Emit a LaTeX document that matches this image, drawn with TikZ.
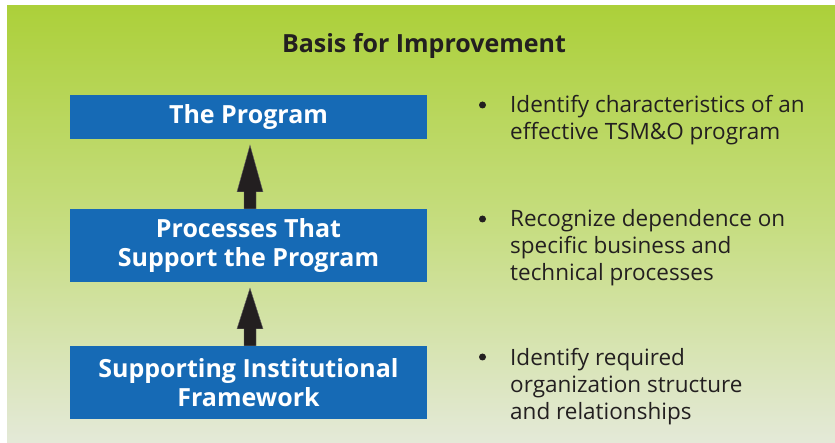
\documentclass[tikz,border=0pt]{standalone}
\usepackage{fontspec}
\setmainfont{Open Sans}
\usetikzlibrary{calc}
\definecolor{bgtop}{RGB}{172,208,58}
\definecolor{bgmid}{RGB}{198,221,128}
\definecolor{bgbot}{RGB}{228,233,216}
\definecolor{boxblue}{RGB}{22,106,181}
\definecolor{ink}{RGB}{35,31,32}
\tikzset{
  stagebox/.style={fill=boxblue, draw=none, minimum width=357pt, inner sep=0pt, text=white,
    align=center, font=\bfseries\fontsize{25}{28.5}\selectfont},
  bullettext/.style={anchor=base west, align=left, text=ink, inner sep=0pt,
    font=\fontsize{22.5}{27}\selectfont},
  bulletdot/.style={circle, fill=ink, draw=none, minimum size=7pt, inner sep=0pt},
  uparrow/.style={fill=ink, draw=ink!70, line width=0.4pt},
}
\begin{document}
\begin{tikzpicture}[x=1pt,y=-1pt]
\useasboundingbox (0,0) rectangle (835,443);
\shade[top color=bgtop, bottom color=bgbot, middle color=bgmid] (7,6) rectangle (835,443);

\node[text=ink, font=\bfseries\fontsize{25}{28}\selectfont, anchor=base] (title) at (424,53) {Basis for Improvement};

\node[stagebox, minimum height=44pt] (b1) at (248.5,117) {The Program};
\node[stagebox, minimum height=73pt] (b2) at (248.5,245.5) {Processes That\\Support the Program};
\node[stagebox, minimum height=73pt] (b3) at (248.5,382.5) {Supporting Institutional\\Framework};

% arrows
\coordinate (a1) at ($(b2.north)+(1.5,0)$);
\coordinate (t1) at ($(b1.south)+(1.5,6)$);
\fill[uparrow] ($(a1)+(-6,0)$) -- ($(a1)+(-6,-17)$) -- ($(a1)+(-13,-17)$) -- (t1)
  -- ($(a1)+(13,-17)$) -- ($(a1)+(6,-17)$) -- ($(a1)+(6,0)$) -- cycle;
\coordinate (a2) at ($(b3.north)+(1.5,0)$);
\coordinate (t2) at ($(b2.south)+(1.5,6)$);
\fill[uparrow] ($(a2)+(-6,0)$) -- ($(a2)+(-6,-17)$) -- ($(a2)+(-13,-17)$) -- (t2)
  -- ($(a2)+(13,-17)$) -- ($(a2)+(6,-17)$) -- ($(a2)+(6,0)$) -- cycle;

% bullets (base anchor sits on the last line's baseline)
\node[bulletdot] (d1) at (482.5,105) {};
\node[bullettext] (l1) at (510,140) {Identify characteristics of an\\effective TSM\&O program};
\node[bulletdot] (d2) at (482.5,219) {};
\node[bullettext] (l2) at (510,281) {Recognize dependence on\\specific business and\\technical processes};
\node[bulletdot] (d3) at (482.5,357) {};
\node[bullettext] (l3) at (510,419) {Identify required\\organization structure\\and relationships};
\end{tikzpicture}
\end{document}
